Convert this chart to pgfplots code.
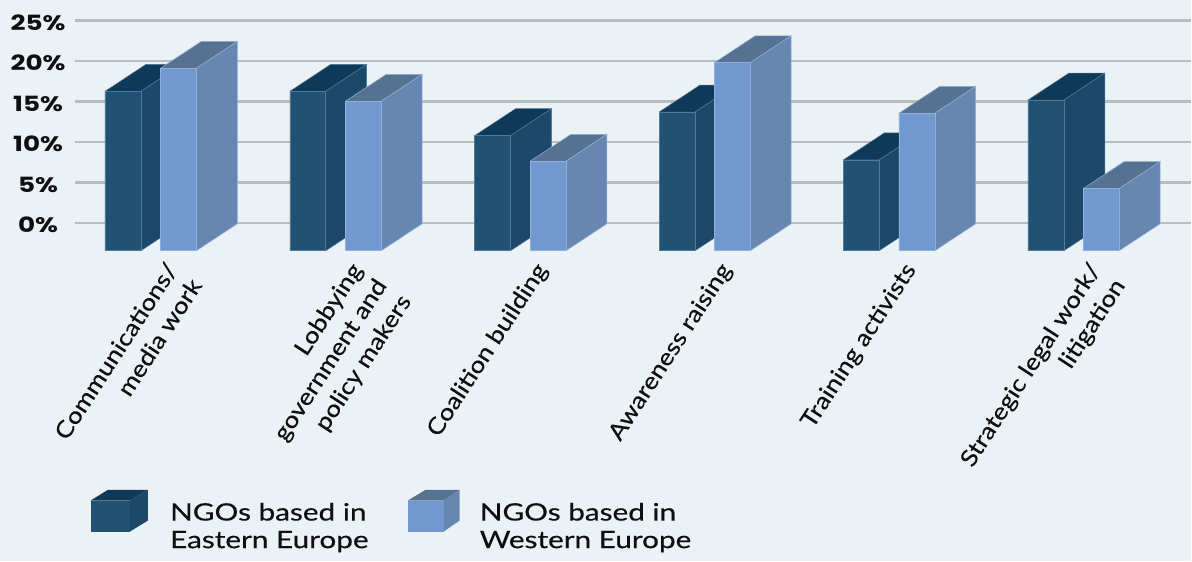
\documentclass[border=0pt]{standalone}
\usepackage{fontspec}
\setmainfont{Poppins}[FakeStretch=1.25]
\newfontfamily\labelfont{Lato}[FakeStretch=1.14,FakeBold=0.4]
\newfontfamily\legendfont{Lato}[FakeStretch=1.24,FakeBold=0.4]
\usepackage{pgfplots}
\pgfplotsset{compat=1.18}
\definecolor{bg}{HTML}{EBF2F6}
\definecolor{gridc}{HTML}{BBBDBD}
\definecolor{Ef}{HTML}{215274}
\definecolor{Es}{HTML}{1C496B}
\definecolor{Et}{HTML}{0E3A57}
\definecolor{Ee}{HTML}{4F7A99}
\definecolor{Wf}{HTML}{7199D0}
\definecolor{Ws}{HTML}{6786B0}
\definecolor{Wt}{HTML}{577291}
\definecolor{We}{HTML}{8FB0DA}
\definecolor{ink}{HTML}{0F0F0F}
% #1 left edge, #2 value, #3 colour prefix
\newcommand\barbox[3]{%
  \pgfmathsetmacro\xa{#1}\pgfmathsetmacro\xb{#1+36}%
  \pgfmathsetmacro\xc{#1+41}\pgfmathsetmacro\xd{#1+77}%
  \pgfmathsetmacro\yt{#2-3.33}%
  \addplot[draw=#3e,line width=0.5pt,fill=#3t] coordinates {(\xa,\yt)(\xc,#2)(\xd,#2)(\xb,\yt)(\xa,\yt)};
  \addplot[draw=#3e,line width=0.5pt,fill=#3s] coordinates {(\xb,-3.4)(\xd,-0.07)(\xd,#2)(\xb,\yt)(\xb,-3.4)};
  \addplot[draw=#3e,line width=0.5pt,fill=#3f] coordinates {(\xa,-3.4)(\xb,-3.4)(\xb,\yt)(\xa,\yt)(\xa,-3.4)};
}
\begin{document}
\begin{tikzpicture}
\fill[bg] (0,-310.7pt) rectangle (1192pt,251.3pt);
\begin{axis}[
  at={(0,0)}, anchor=south west,
  scale only axis, width=1192pt, height=251.3pt,
  xmin=0, xmax=1192, ymin=-3.45, ymax=27.53,
  clip=false, axis line style={draw=none}, major tick length=0pt,
  ytick={0,5,10,15,20,25},
  yticklabels={0\%,5\%,10\%,15\%,20\%,25\%},
  yticklabel style={anchor=center, xshift=38pt, yshift=-2pt, font=\fontsize{21}{21}\selectfont\bfseries, text=ink},
  xtick={171,356,541,725.5,910,1095},
  xticklabels={{Communications/\\media work},{Lobbying\\government and\\policy makers},{Coalition building},{Awareness raising},{Training activists},{Strategic legal work/\\litigation}},
  xticklabel style={rotate=57, anchor=north east, align=right, font=\labelfont\fontsize{23}{29}\selectfont, text=ink, xshift=-8pt, yshift=4pt},
]
\pgfplotsinvokeforeach{0,5,10,15,20,25}{
  \addplot[draw=gridc,line width=2.4pt] coordinates {(75,#1)(1192,#1)};
}
\barbox{105}{19.6}{E}
\barbox{160.5}{22.44}{W}
\barbox{290}{19.6}{E}
\barbox{345.5}{18.37}{W}
\barbox{475}{14.13}{E}
\barbox{530.5}{10.97}{W}
\barbox{659.7}{17.05}{E}
\barbox{715}{23.13}{W}
\barbox{844}{11.13}{E}
\barbox{899.7}{16.89}{W}
\barbox{1029}{18.53}{E}
\barbox{1084.3}{7.6}{W}
% legend
\fill[Et] (axis cs:90.5,-34.24) -- (axis cs:108,-32.9) -- (axis cs:148,-32.9) -- (axis cs:130,-34.24) -- cycle;
\fill[Es] (axis cs:130,-34.24) -- (axis cs:148,-32.9) -- (axis cs:148,-36.7) -- (axis cs:130,-38.06) -- cycle;
\fill[Ef] (axis cs:90.5,-34.24) rectangle (axis cs:130,-38.06);
\fill[Wt] (axis cs:408,-34.24) -- (axis cs:426,-32.9) -- (axis cs:460,-32.9) -- (axis cs:444,-34.24) -- cycle;
\fill[Ws] (axis cs:444,-34.24) -- (axis cs:460,-32.9) -- (axis cs:460,-36.7) -- (axis cs:444,-38.06) -- cycle;
\fill[Wf] (axis cs:408,-34.24) rectangle (axis cs:444,-38.06);
\node[anchor=base west,font=\legendfont\fontsize{24}{24}\selectfont,text=ink,inner sep=0pt] at (axis cs:170,-36.7) {NGOs based in};
\node[anchor=base west,font=\legendfont\fontsize{24}{24}\selectfont,text=ink,inner sep=0pt] at (axis cs:170,-40.1) {Eastern Europe};
\node[anchor=base west,font=\legendfont\fontsize{24}{24}\selectfont,text=ink,inner sep=0pt] at (axis cs:480,-36.7) {NGOs based in};
\node[anchor=base west,font=\legendfont\fontsize{24}{24}\selectfont,text=ink,inner sep=0pt] at (axis cs:480,-40.1) {Western Europe};
\end{axis}
\end{tikzpicture}
\end{document}
